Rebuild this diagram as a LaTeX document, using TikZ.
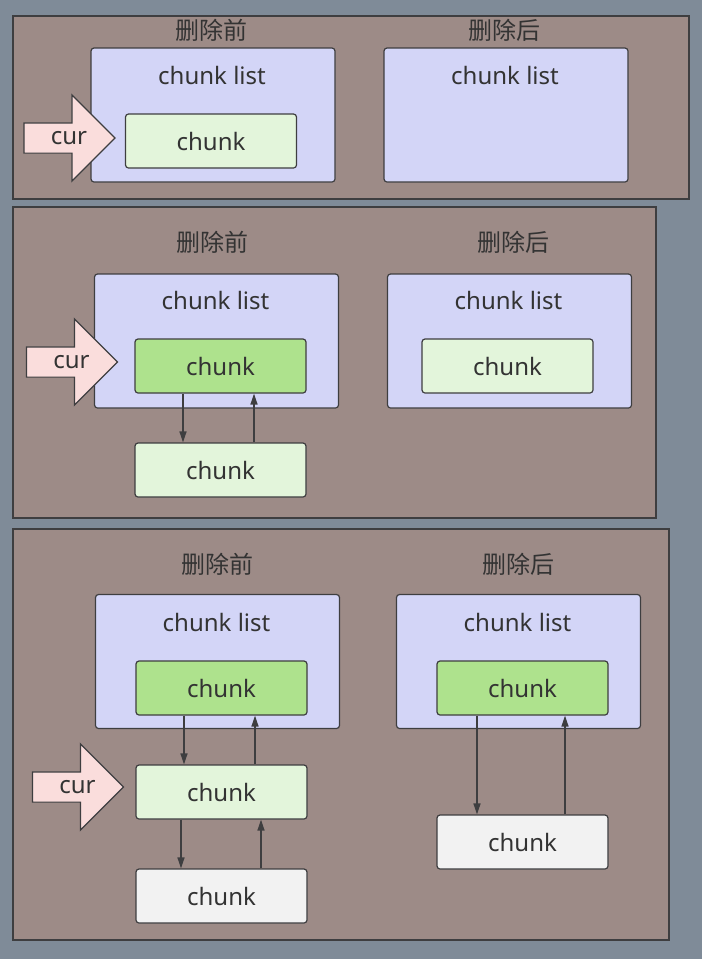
\documentclass[tikz,border=0pt]{standalone}
\usepackage{fontspec}
\setmainfont{Noto Sans}
\newfontfamily\cjk{Noto Sans CJK SC}
\usetikzlibrary{arrows.meta,positioning,shapes.arrows}
\definecolor{SlateBack}{RGB}{127,139,152}
\definecolor{PanelBrown}{RGB}{157,139,135}
\definecolor{ListBlue}{RGB}{211,213,247}
\definecolor{ChunkGreen}{RGB}{227,245,219}
\definecolor{ActiveGreen}{RGB}{174,226,141}
\definecolor{FreeGray}{RGB}{242,242,242}
\definecolor{CurPink}{RGB}{250,221,220}
\definecolor{LineGray}{RGB}{62,62,64}
\definecolor{TextGray}{RGB}{51,51,51}

\begin{document}
\begin{tikzpicture}[x=1pt,y=-1pt,>={Triangle[length=11pt,width=7pt]},
    font=\fontsize{24}{28}\selectfont,text=TextGray,
    panel/.style={draw=LineGray,line width=1.4pt,fill=PanelBrown},
    listbox/.style={draw=LineGray,line width=1.2pt,fill=ListBlue,rounded corners=3pt,
      minimum width=244pt,minimum height=134pt,inner sep=0pt},
    chunkbox/.style={draw=LineGray,line width=1.2pt,rounded corners=3pt,
      minimum width=171pt,minimum height=54pt,inner sep=0pt},
    curarrow/.style={single arrow,draw=LineGray,line width=1.2pt,fill=CurPink,
      single arrow head extend=28pt,single arrow tip angle=90,minimum height=91pt,
      text height=12pt,text depth=0pt,inner ysep=8.5pt,inner xsep=2pt,
      label={[text=TextGray,xshift=7pt]center:cur}},
    link/.style={->,draw=LineGray,line width=1.5pt}]
  \useasboundingbox (0,0) rectangle (702,959);
  \fill[SlateBack] (0,0) rectangle (702,959);

  % panel 1
  \draw[panel] (13,16) rectangle (689,199);
  \node (t1a) at (211,30) {\cjk 删除前};
  \node (t1b) at (504,30) {\cjk 删除后};
  \node[listbox] (l1a) at (213,115) {};
  \node (n1a) at (212,75) {chunk list};
  \node[chunkbox,fill=ChunkGreen] (c1) at (211,141) {chunk};
  \node[curarrow,anchor=tip] (cur1) at ([xshift=-9pt,yshift=3pt]c1.west) {};
  \node[listbox] (l1b) at (506,115) {};
  \node (n1b) at (505,75) {chunk list};

  % panel 2
  \draw[panel] (13,207) rectangle (656,518);
  \node (t2a) at (212,242) {\cjk 删除前};
  \node (t2b) at (513,242) {\cjk 删除后};
  \node[listbox] (l2a) at (216.5,341) {};
  \node (n2a) at (215.5,300) {chunk list};
  \node[chunkbox,fill=ActiveGreen] (c2a) at (220.5,366) {chunk};
  \node[chunkbox,fill=ChunkGreen] (c2b) at (220.5,470) {chunk};
  \node[curarrow,anchor=tip] (cur2) at ([xshift=-16pt,yshift=4pt]c2a.west) {};
  \draw[link] ([xshift=-37.5pt]c2a.south) -- ([xshift=-37.5pt]c2b.north);
  \draw[link] ([xshift=33.5pt]c2b.north) -- ([xshift=33.5pt]c2a.south);
  \node[listbox] (l2b) at (509.5,341) {};
  \node (n2b) at (508.5,300) {chunk list};
  \node[chunkbox,fill=ChunkGreen] (c2c) at (507.5,366) {chunk};

  % panel 3
  \draw[panel] (13,529) rectangle (669,940);
  \node (t3a) at (217,564) {\cjk 删除前};
  \node (t3b) at (518,564) {\cjk 删除后};
  \node[listbox] (l3a) at (217.5,661.5) {};
  \node (n3a) at (216.5,622) {chunk list};
  \node[chunkbox,fill=ActiveGreen] (c3a) at (221.5,688) {chunk};
  \node[chunkbox,fill=ChunkGreen] (c3b) at (221.5,792) {chunk};
  \node[chunkbox,fill=FreeGray] (c3c) at (221.5,896) {chunk};
  \node[curarrow,anchor=tip] (cur3) at ([xshift=-11pt,yshift=5pt]c3b.west) {};
  \draw[link] ([xshift=-37.5pt]c3a.south) -- ([xshift=-37.5pt]c3b.north);
  \draw[link] ([xshift=33.5pt]c3b.north) -- ([xshift=33.5pt]c3a.south);
  \draw[link] ([xshift=-40.5pt]c3b.south) -- ([xshift=-40.5pt]c3c.north);
  \draw[link] ([xshift=39.5pt]c3c.north) -- ([xshift=39.5pt]c3b.south);
  \node[listbox] (l3b) at (518.5,661.5) {};
  \node (n3b) at (517.5,622) {chunk list};
  \node[chunkbox,fill=ActiveGreen] (c3d) at (522.5,688) {chunk};
  \node[chunkbox,fill=FreeGray] (c3e) at (522.5,842) {chunk};
  \draw[link] ([xshift=-45.5pt]c3d.south) -- ([xshift=-45.5pt]c3e.north);
  \draw[link] ([xshift=42.5pt]c3e.north) -- ([xshift=42.5pt]c3d.south);
\end{tikzpicture}
\end{document}
